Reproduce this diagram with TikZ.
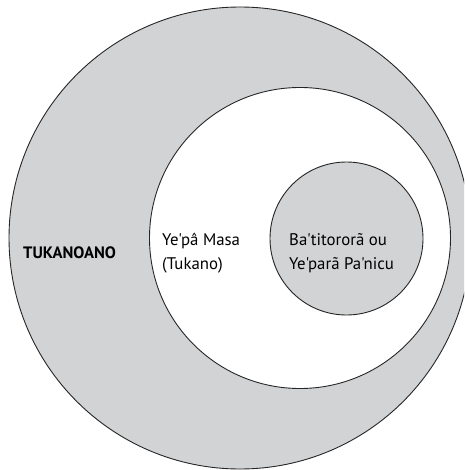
\documentclass[tikz,border=0pt]{standalone}
\usepackage{fontspec}
\setmainfont{PT Sans}[Ligatures=TeXOff]
\definecolor{ringgray}{HTML}{D1D3D4}
\begin{document}
\begin{tikzpicture}[x=1pt,y=-1pt,
  ring/.style={circle,draw=black!85,line width=0.9pt,inner sep=0pt},
  lbl/.style={font=\fontsize{16.8}{24}\selectfont,align=left,inner sep=0pt,anchor=west}]
\useasboundingbox (0,0) rectangle (464,470);
\begin{scope}
\clip (0,0) rectangle (464,470);
\node[ring,fill=ringgray,minimum size=462pt] (outer) at (240,238) {};
\end{scope}
\node[ring,fill=white,minimum size=301pt] (middle) at (300,238) {};
\node[ring,fill=ringgray,minimum size=153pt] (inner) at (346.5,238.5) {};
\node[lbl,font=\fontsize{16.5}{24}\selectfont\bfseries] (t1) at (23,252.5) {TUKANOANO};
\node[lbl] (t2) at (162,253.5) {Ye'pâ Masa\\(Tukano)};
\node[lbl] (t3) at (289,253.5) {Ba'titororã ou\\Ye'parã Pa'nicu};
\end{tikzpicture}
\end{document}
